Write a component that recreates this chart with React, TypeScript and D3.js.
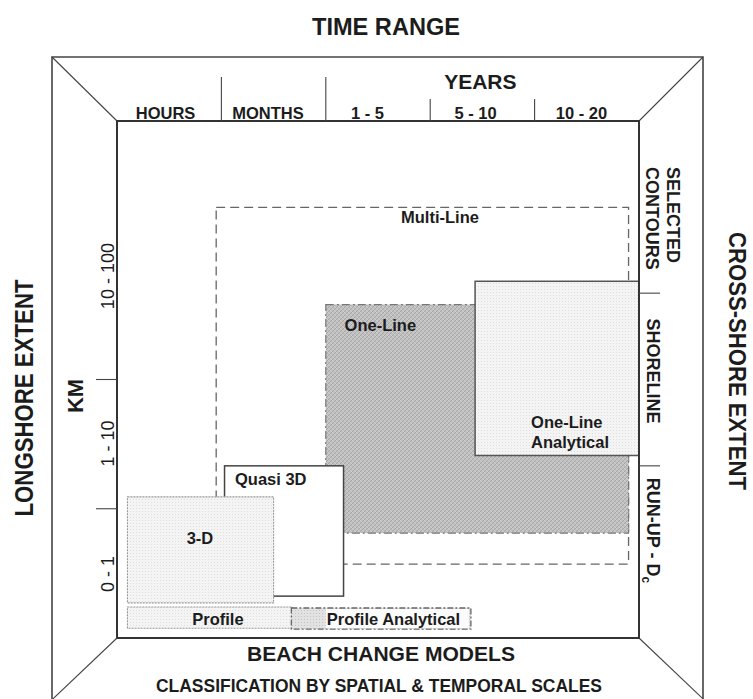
import React from 'react';
import * as d3 from 'd3';

// ---- data ----
const timeCategories = ['HOURS', 'MONTHS', '1 - 5', '5 - 10', '10 - 20'];
const timeLabelPos = [0.465, 1.446, 2.4, 3.434, 4.449];
const timeDividers = [1, 2, 3, 4];
const timeDividerTop = [77, 77, 99, 99];

const longshoreLabels = ['0 - 1', '1 - 10', '10 - 100'];
const longshoreLabelPos = [12.4, 37.6, 70];
const longshoreTicks = [25, 50];

const crossShoreLabels = [['SELECTED', 'CONTOURS'], ['SHORELINE'], ['RUN-UP - D']];
const crossShoreSubscripts = [['', ''], [''], ['c']];
const crossShoreLabelStart = [91.1, 61.8, 31];
const crossShoreTicks = [33.3, 66.7];

const modelNames = ['Multi-Line', 'One-Line', 'One-Line Analytical', 'Quasi 3D', '3-D', 'Profile', 'Profile Analytical'];
const modelTimeStart = [0.95, 2.0, 3.43, 1.03, 0.1, 0.1, 1.67];
const modelTimeEnd = [4.9, 4.9, 5.0, 2.17, 1.5, 1.68, 3.39];
const modelSpaceStart = [14.3, 20.3, 35.3, 8.1, 6.8, 1.9, 1.7];
const modelSpaceEnd = [83.3, 64.5, 69.0, 33.3, 27.3, 6.0, 5.8];
const modelLabelLines = [['Multi-Line'], ['One-Line'], ['One-Line', 'Analytical'], ['Quasi 3D'], ['3-D'], ['Profile'], ['Profile Analytical']];
const modelLabelX = [3.094, 2.18, 3.966, 1.13, 0.795, 0.967, 2.01];
const modelLabelY = [80.2, 59.4, 40.6, 29.6, 18.2, 2.6, 2.5];
const modelLabelAnchor = ['middle', 'start', 'start', 'start', 'middle', 'middle', 'start'];

const FONT = "'Liberation Sans', Arial, Helvetica, sans-serif";
const INK = '#1c1c1c';

const modelStyle: Record<string, any> = {
  'Multi-Line': { fill: 'none', stroke: '#666', sw: 1.3, dash: '9,5' },
  'One-Line': { fill: 'url(#hatch)', stroke: '#777', sw: 1.2, dash: '8,3,2,3' },
  'One-Line Analytical': { fill: 'url(#dots)', stroke: '#555', sw: 1.5, dash: null },
  'Quasi 3D': { fill: '#fff', stroke: '#444', sw: 1.5, dash: null },
  '3-D': { fill: 'url(#dots)', stroke: '#999', sw: 1.1, dash: '2,1' },
  'Profile': { fill: 'url(#dots)', stroke: '#999', sw: 1.1, dash: '2,1' },
  'Profile Analytical': { fill: 'url(#dotsDark)', stroke: '#666', sw: 1.3, dash: '6,2,2,2' },
};

export default function App() {
  const x = d3.scaleLinear().domain([0, 5]).range([117, 639]);
  const y = d3.scaleLinear().domain([0, 100]).range([638, 121]);
  const [x0, x1] = x.range();
  const [y1, y0] = y.range();

  const outer = { l: 52, t: 57, r: 703, b: 706 };

  return (
    <svg width={753} height={699} style={{ position: 'absolute', left: 0, top: 0, background: '#fff' }} fontFamily={FONT}>
      <defs>
        <pattern id="dots" width="3" height="3" patternUnits="userSpaceOnUse">
          <rect width="3" height="3" fill="#f4f4f4" />
          <rect x="1" y="1" width="1" height="1" fill="#dedede" />
        </pattern>
        <pattern id="dotsDark" width="3" height="3" patternUnits="userSpaceOnUse">
          <rect width="3" height="3" fill="#e2e2e2" />
          <rect x="1" y="1" width="1" height="1" fill="#c4c4c4" />
        </pattern>
        <pattern id="hatch" width="4" height="4" patternUnits="userSpaceOnUse">
          <rect width="4" height="4" fill="#c0c0c0" />
          <path d="M0,4 L4,0" stroke="#a6a6a6" strokeWidth="1" />
          <path d="M0,0 L4,4" stroke="#d2d2d2" strokeWidth="0.8" />
        </pattern>
      </defs>

      {/* outer frame */}
      <path d={`M${outer.l},${outer.b} L${outer.l},${outer.t} L${outer.r},${outer.t} L${outer.r},${outer.b}`} fill="none" stroke="#444" strokeWidth={1.6} />
      <line x1={outer.l} y1={outer.t} x2={x0} y2={y0} stroke="#444" strokeWidth={1.1} />
      <line x1={outer.r} y1={outer.t} x2={x1} y2={y0} stroke="#444" strokeWidth={1.1} />
      <line x1={x0} y1={y1} x2={outer.l} y2={y1 + (x0 - outer.l) * 0.95} stroke="#444" strokeWidth={1.1} />
      <line x1={x1} y1={y1} x2={outer.r} y2={y1 + (outer.r - x1) * 0.95} stroke="#444" strokeWidth={1.1} />

      {/* models */}
      {modelNames.map((name, i) => {
        const s = modelStyle[name];
        const rx = x(modelTimeStart[i]);
        const rw = x(modelTimeEnd[i]) - rx;
        const ry = y(modelSpaceEnd[i]);
        const rh = y(modelSpaceStart[i]) - ry;
        return (
          <g key={name}>
            <rect x={rx} y={ry} width={rw} height={rh} fill={s.fill} stroke={s.stroke} strokeWidth={s.sw} strokeDasharray={s.dash || undefined} />
            {name === 'Profile Analytical' && (
              <rect x={x(modelLabelX[i]) - 1} y={ry + 1} width={x(modelTimeEnd[i]) - x(modelLabelX[i]) - 1} height={rh - 2} fill="#fbfbfb" />
            )}
            {modelLabelLines[i].map((t, j) => (
              <text key={j} x={x(modelLabelX[i])} y={y(modelLabelY[i]) + j * 20} textAnchor={modelLabelAnchor[i]} fontSize={16.5} fontWeight="bold" fill={INK}>{t}</text>
            ))}
          </g>
        );
      })}

      {/* inner frame */}
      <rect x={x0} y={y0} width={x1 - x0} height={y1 - y0} fill="none" stroke="#333" strokeWidth={2} />

      {/* top axis */}
      {timeDividers.map((d, i) => (
        <line key={d} x1={x(d)} x2={x(d)} y1={timeDividerTop[i]} y2={y0} stroke="#444" strokeWidth={1.1} />
      ))}
      {timeCategories.map((c, i) => (
        <text key={c} x={x(timeLabelPos[i])} y={119} textAnchor="middle" fontSize={16.5} fontWeight="bold" fill={INK}>{c}</text>
      ))}
      <text x={x(3.48)} y={89} textAnchor="middle" fontSize={21} fontWeight="bold" fill={INK}>YEARS</text>
      <text x={386} y={35} textAnchor="middle" fontSize={24} fontWeight="bold" fill={INK} textLength={148} lengthAdjust="spacingAndGlyphs">TIME RANGE</text>

      {/* left axis */}
      {longshoreTicks.map((t) => (
        <line key={t} x1={96} x2={x0} y1={y(t)} y2={y(t)} stroke="#444" strokeWidth={1.1} />
      ))}
      {longshoreLabels.map((l, i) => (
        <text key={l} transform={`translate(114,${y(longshoreLabelPos[i])}) rotate(-90)`} textAnchor="middle" fontSize={18} fill={INK}>{l}</text>
      ))}
      <text transform={`translate(83,396) rotate(-90)`} textAnchor="middle" fontSize={22} fontWeight="bold" fill={INK}>KM</text>
      <text transform={`translate(33,398) rotate(-90)`} textAnchor="middle" fontSize={25} fontWeight="bold" fill={INK} textLength={237} lengthAdjust="spacingAndGlyphs">LONGSHORE EXTENT</text>

      {/* right axis */}
      {crossShoreTicks.map((t) => (
        <line key={t} x1={x1} x2={660} y1={y(t)} y2={y(t)} stroke="#444" strokeWidth={1.1} />
      ))}
      {crossShoreLabels.map((lines, i) =>
        lines.map((t, j) => (
          <text key={t} transform={`translate(${(lines.length === 2 ? 667 : 647) - j * 21},${y(crossShoreLabelStart[i])}) rotate(90)`} textAnchor="start" fontSize={18} fontWeight="bold" fill={INK}>
            {t}
            {crossShoreSubscripts[i][j] && <tspan fontSize={12} dy={5}>{crossShoreSubscripts[i][j]}</tspan>}
          </text>
        ))
      )}
      <text transform={`translate(729,361) rotate(90)`} textAnchor="middle" fontSize={24} fontWeight="bold" fill={INK} textLength={258} lengthAdjust="spacingAndGlyphs">CROSS-SHORE EXTENT</text>

      {/* bottom titles */}
      <text x={381} y={661} textAnchor="middle" fontSize={20.5} fontWeight="bold" fill={INK} textLength={268} lengthAdjust="spacingAndGlyphs">BEACH CHANGE MODELS</text>
      <text x={379} y={692} textAnchor="middle" fontSize={18} fontWeight="bold" fill={INK} textLength={446} lengthAdjust="spacingAndGlyphs">CLASSIFICATION BY SPATIAL &amp; TEMPORAL SCALES</text>
    </svg>
  );
}
